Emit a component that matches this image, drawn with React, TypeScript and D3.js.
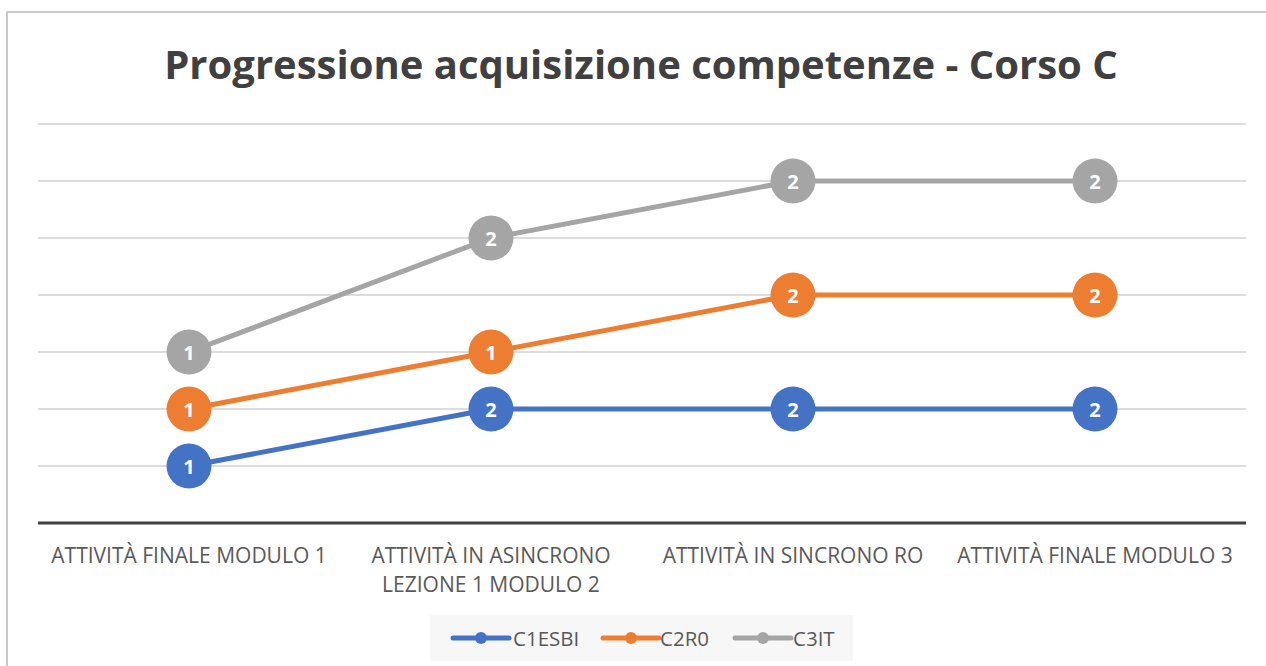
import React from "react";
import * as d3 from "d3";

const categories: string[][] = [
  ["ATTIVITÀ FINALE MODULO 1"],
  ["ATTIVITÀ IN ASINCRONO", "LEZIONE 1 MODULO 2"],
  ["ATTIVITÀ IN SINCRONO RO"],
  ["ATTIVITÀ FINALE MODULO 3"],
];
const seriesNames = ["C1ESBI", "C2R0", "C3IT"];
const c1esbi = [1, 2, 2, 2];
const c2r0 = [1, 1, 2, 2];
const c3it = [1, 2, 2, 2];
const seriesColors = ["#4472C4", "#ED7D31", "#A5A5A5"];
const yTicks = [0, 1, 2, 3, 4, 5, 6, 7];
const title = "Progressione acquisizione competenze - Corso C";

export default function App() {
  const W = 1266, H = 666;
  const left = 38, right = 1246, top = 124, bottom = 523;
  const x = d3.scaleBand<number>().domain(d3.range(categories.length)).range([left, right]);
  const y = d3.scaleLinear().domain([0, 7]).range([bottom, top]);
  const raw = [c1esbi, c2r0, c3it];
  const table = categories.map((_, i) => ({ i, s0: raw[0][i], s1: raw[1][i], s2: raw[2][i] }));
  const stack = d3.stack<any>().keys(["s0", "s1", "s2"]);
  const stacked = stack(table);
  const cx = (i: number) => (x(i) as number) + x.bandwidth() / 2;
  const line = d3.line<any>().x((d) => cx(d.data.i)).y((d) => y(d[1]));
  const font = "'Open Sans', 'Liberation Sans', sans-serif";

  const legendItems = [
    { x0: 453, tx: 513 },
    { x0: 603, tx: 660 },
    { x0: 735, tx: 793 },
  ];

  return (
    <div style={{ position: "absolute", left: 0, top: 0 }}>
      <svg width={W} height={H} style={{ display: "block", background: "#fff" }}>
        <rect x={7} y={12} width={1270} height={680} fill="#fff" stroke="#c9c9c9" strokeWidth={2} />
        <text x={641} y={79} textAnchor="middle" fontFamily={font} fontWeight={700} fontSize={40} fill="#404040">
          {title}
        </text>
        {yTicks.slice(1).map((t) => (
          <line key={t} x1={left} x2={right} y1={y(t)} y2={y(t)} stroke="#d0d0d0" strokeWidth={1.3} />
        ))}
        <line x1={left} x2={right} y1={y(0)} y2={y(0)} stroke="#404040" strokeWidth={3} />
        {categories.map((lines, i) => (
          <text key={i} x={cx(i)} textAnchor="middle" fontFamily={font} fontSize={21} fill="#595959">
            {lines.map((l, j) => (
              <tspan key={j} x={cx(i)} y={563 + j * 29}>{l}</tspan>
            ))}
          </text>
        ))}
        {stacked.map((s, k) => (
          <path key={k} d={line(s as any) || ""} fill="none" stroke={seriesColors[k]} strokeWidth={5} strokeLinejoin="round" />
        ))}
        {stacked.map((s, k) => (
          <g key={k}>
            {s.map((d: any, i: number) => (
              <g key={i}>
                <circle cx={cx(d.data.i)} cy={y(d[1])} r={22.5} fill={seriesColors[k]} />
                <text x={cx(d.data.i)} y={y(d[1]) + 7.5} textAnchor="middle" fontFamily={font} fontWeight={700} fontSize={20} fill="#fff">
                  {raw[k][i]}
                </text>
              </g>
            ))}
          </g>
        ))}
        <rect x={430} y={615} width={423} height={46} fill="#f7f7f7" />
        {seriesNames.map((n, k) => (
          <g key={n}>
            <line x1={legendItems[k].x0} x2={legendItems[k].x0 + 56} y1={638} y2={638} stroke={seriesColors[k]} strokeWidth={5} strokeLinecap="round" />
            <circle cx={legendItems[k].x0 + 28} cy={638} r={6} fill={seriesColors[k]} />
            <text x={legendItems[k].tx} y={645.5} fontFamily={font} fontSize={20.5} fill="#595959">{n}</text>
          </g>
        ))}
      </svg>
    </div>
  );
}
